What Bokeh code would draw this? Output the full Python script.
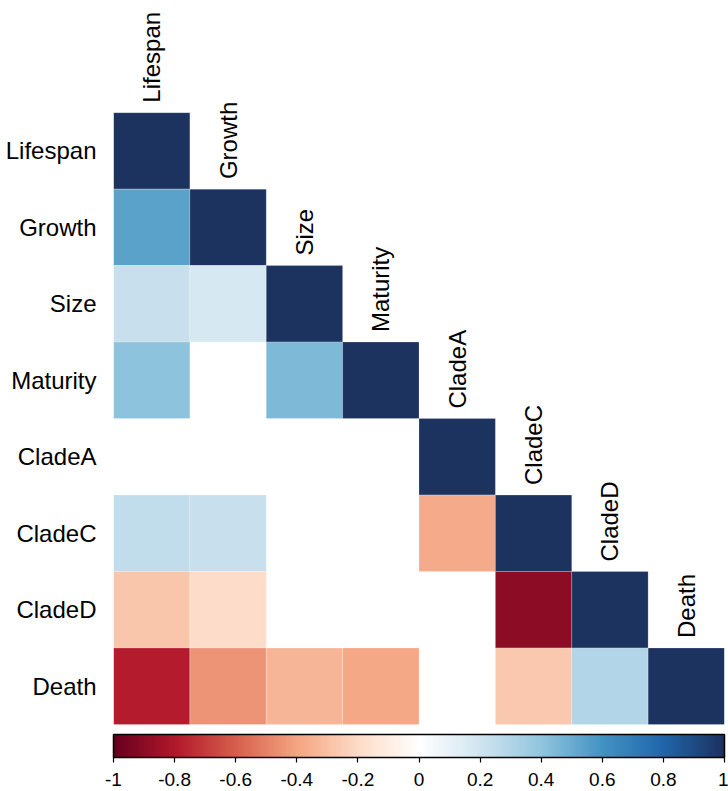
import numpy as np
from bokeh.plotting import figure
from bokeh.models import (ColumnDataSource, LinearColorMapper, ColorBar, FixedTicker,
                          PrintfTickFormatter)
from bokeh.core.properties import value
from bokeh.embed import file_html
from bokeh.resources import INLINE

variables = ["Lifespan", "Growth", "Size", "Maturity", "CladeA", "CladeC", "CladeD", "Death"]

# lower-triangle correlations (row, column); None = blank (not shown)
corr_lifespan = [1.0]
corr_growth = [0.54, 1.0]
corr_size = [0.23, 0.18, 1.0]
corr_maturity = [0.41, None, 0.45, 1.0]
corr_cladea = [None, None, None, None, 1.0]
corr_cladec = [0.25, 0.225, None, None, -0.38, 1.0]
corr_claded = [-0.28, -0.19, None, None, None, -0.90, 1.0]
corr_death = [-0.79, -0.45, -0.34, -0.39, None, -0.27, 0.30, 1.0]
rows = [corr_lifespan, corr_growth, corr_size, corr_maturity,
        corr_cladea, corr_cladec, corr_claded, corr_death]

colorbar_ticks = [-1, -0.8, -0.6, -0.4, -0.2, 0, 0.2, 0.4, 0.6, 0.8, 1]

anchors = ["#67001F", "#B2182B", "#D6604D", "#F4A582", "#FDDBC7", "#FFFFFF",
           "#D1E5F0", "#92C5DE", "#4393C3", "#2166AC", "#1C325F"]


def hex2rgb(h):
    h = h.lstrip("#")
    return np.array([int(h[i:i + 2], 16) for i in (0, 2, 4)], dtype=float)


def make_palette(cols, n=201):
    arr = np.array([hex2rgb(c) for c in cols])
    pos = np.linspace(0, 1, len(cols))
    t = np.linspace(0, 1, n)
    out = []
    for tt in t:
        r = np.interp(tt, pos, arr[:, 0])
        g = np.interp(tt, pos, arr[:, 1])
        b = np.interp(tt, pos, arr[:, 2])
        out.append("#%02x%02x%02x" % (int(round(r)), int(round(g)), int(round(b))))
    return out


palette = make_palette(anchors)
mapper = LinearColorMapper(palette=palette, low=-1, high=1)

n = len(variables)
xs, ys, vals = [], [], []
for i, row in enumerate(rows):
    for j, v in enumerate(row):
        if v is None:
            continue
        xs.append(j + 0.5)
        ys.append(n - i - 0.5)
        vals.append(v)
src = ColumnDataSource(dict(x=xs, y=ys, v=vals))

cell_px = 611 / n
top_extra = 112 / cell_px
bottom_extra = 10 / cell_px

p = figure(width=728, height=791, output_backend="svg", toolbar_location=None,
           x_range=(0, n), y_range=(-bottom_extra, n + top_extra),
           min_border_left=113, min_border_right=4, min_border_top=0, min_border_bottom=57)
p.outline_line_color = None
p.grid.visible = False
p.xaxis.visible = False
p.background_fill_color = "white"

p.rect(x="x", y="y", width=1, height=1, source=src,
       fill_color={"field": "v", "transform": mapper},
       line_color="white", line_width=0.6, line_alpha=0.35)

# column labels (rotated), above each diagonal cell
lab_x = [k + 0.5 for k in range(n)]
lab_y = [n - k + 10 / cell_px for k in range(n)]
p.text(x=lab_x, y=lab_y, text=variables, angle=np.pi / 2,
       text_align="left", text_baseline="middle",
       text_font=value("Liberation Sans"), text_font_size="24px", text_color="black")

# row labels via left axis
yax = p.yaxis[0]
yax.ticker = FixedTicker(ticks=[n - k - 0.5 for k in range(n)])
yax.major_label_overrides = {n - k - 0.5: variables[k] for k in range(n)}
yax.major_label_text_font = "Liberation Sans"
yax.major_label_text_font_size = "24px"
yax.major_label_text_color = "black"
yax.axis_line_color = None
yax.major_tick_line_color = None
yax.minor_tick_line_color = None
yax.major_label_standoff = 11

cb = ColorBar(color_mapper=mapper, orientation="horizontal", width="auto", height=23,
              ticker=FixedTicker(ticks=colorbar_ticks),
              formatter=PrintfTickFormatter(format="%g"),
              major_label_text_font="Liberation Sans", major_label_text_font_size="19px",
              major_label_text_color="black",
              major_tick_in=0, major_tick_out=5, major_tick_line_color="black",
              major_tick_line_width=1.2,
              bar_line_color="black", bar_line_width=1.5,
              padding=0, margin=0, background_fill_alpha=0, border_line_color=None,
              label_standoff=10)
p.add_layout(cb, "below")

open("out.html", "w").write(file_html(p, INLINE))
